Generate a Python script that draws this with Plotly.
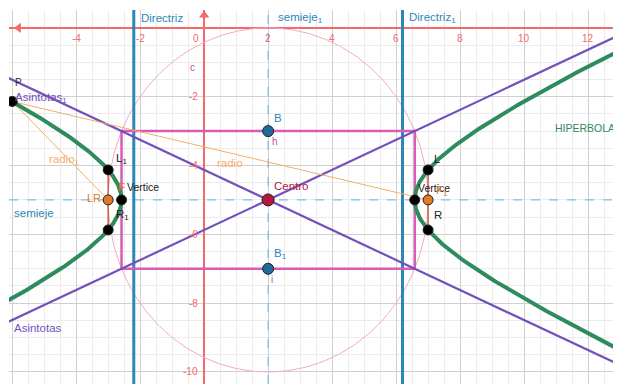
"""
Hipérbola horizontal con sus elementos (vista tipo GeoGebra).
"""

import numpy as np
import plotly.graph_objects as go

# ── Datos ─────────────────────────────────────────────────────────────
CENTER_H, CENTER_K = 2.0, -5.0      # Centro
A_SQ = 21.0                          # a² (semieje real)
B_SEMI = 2.0                         # b  (semieje imaginario)
C_FOCAL = 5.0                        # c  (distancia focal)
P_X = -6.0                           # abscisa del punto P (rama izquierda)

X_TICKS = [-4, -2, 0, 2, 4, 6, 8, 10, 12]
Y_TICKS = [-2, -4, -6, -8, -10]

X_RANGE = [-6.1, 13.03]
Y_RANGE = [-10.35, 0.52]

# ── Colores ───────────────────────────────────────────────────────────
_GREEN   = "#2e8b5e"
_PURPLE  = "#7250bd"
_BLUE    = "#2e86b8"
_DASH    = "#6aaede"
_MAGENTA = "#d65cb4"
_PINK    = "#f3a9c6"
_ORANGE  = "#f6ad6a"
_LR      = "#c8613f"
_FOCUS   = "#e07a24"
_RED     = "#f26a6a"
_FONT    = "Liberation Sans, Arial, sans-serif"

a = np.sqrt(A_SQ)
b = B_SEMI
c = C_FOCAL
h, k = CENTER_H, CENTER_K
d_dir = A_SQ / c
half_lr = b * b / a

fig = go.Figure()


def line(xs, ys, color, width, dash="solid"):
    fig.add_trace(go.Scatter(x=xs, y=ys, mode="lines", hoverinfo="skip",
                             line=dict(color=color, width=width, dash=dash)))


def pts(xs, ys, color, size, border="#222222"):
    fig.add_trace(go.Scatter(x=xs, y=ys, mode="markers", hoverinfo="skip",
                             marker=dict(color=color, size=size,
                                         line=dict(color=border, width=1))))


# circunferencia de radio c
t = np.linspace(0, 2 * np.pi, 400)
line(h + c * np.cos(t), k + c * np.sin(t), _PINK, 1)

# ejes de simetría (punteados)
line([X_RANGE[0], X_RANGE[1]], [k, k], _DASH, 1, "dash")
line([h, h], [Y_RANGE[0], Y_RANGE[1]], _DASH, 1, "dash")

# directrices
line([h - d_dir, h - d_dir], Y_RANGE, _BLUE, 3)
line([h + d_dir, h + d_dir], Y_RANGE, _BLUE, 3)

# rectángulo auxiliar
line([h - a, h + a, h + a, h - a, h - a],
     [k + b, k + b, k - b, k - b, k + b], _MAGENTA, 2.5)

# asíntotas
xa = np.array([X_RANGE[0] - 1, X_RANGE[1] + 1])
line(xa, k + b / a * (xa - h), _PURPLE, 2.2)
line(xa, k - b / a * (xa - h), _PURPLE, 2.2)

# radios focales desde P
p_y = k + b * np.sqrt((P_X - h) ** 2 / A_SQ - 1)
line([P_X, h - c], [p_y, k], _ORANGE, 1)
line([P_X, h + c], [p_y, k], _ORANGE, 1)

# lados rectos
line([h - c, h - c], [k - half_lr, k + half_lr], _LR, 1.5)
line([h + c, h + c], [k - half_lr, k + half_lr], _LR, 1.5)

# hipérbola
s = np.linspace(-2.6, 2.6, 400)
line(h + a * np.cosh(s), k + b * np.sinh(s), _GREEN, 4)
line(h - a * np.cosh(s), k + b * np.sinh(s), _GREEN, 4)

# flechas de los ejes
fig.add_trace(go.Scatter(x=[X_RANGE[0] + 0.3], y=[0], mode="markers", hoverinfo="skip",
                         marker=dict(symbol="triangle-left", color=_RED, size=9)))
fig.add_trace(go.Scatter(x=[0], y=[Y_RANGE[1] - 0.15], mode="markers", hoverinfo="skip",
                         marker=dict(symbol="triangle-up", color=_RED, size=9)))

# puntos
pts([h - c, h + c], [k, k], _FOCUS, 10)
pts([h - a, h + a, h - c, h - c, h + c, h + c, P_X],
    [k, k, k + half_lr, k - half_lr, k + half_lr, k - half_lr, p_y], "#000000", 10)
pts([h, h], [k + b, k - b], "#1f6b99", 11)
pts([h], [k], "#b3173f", 12)

# ── Etiquetas ─────────────────────────────────────────────────────────
ann = []


def label(x, y, text, color, size=11.5, xanchor="left"):
    ann.append(dict(x=x, y=y, text=text, showarrow=False, xanchor=xanchor,
                    yanchor="middle", font=dict(family=_FONT, size=size, color=color)))


for v in X_TICKS:
    label(v - (0.25 if v == 0 else 0), -0.3, str(v), _RED, 10, "center")
for v in Y_TICKS:
    label(-0.12, v, str(v), _RED, 10, "right")

label(-2.05, 0.3, "Directriz", _BLUE)
label(2.25, 0.3, "semieje<sub>1</sub>", _BLUE)
label(6.33, 0.3, "Directriz<sub>1</sub>", _BLUE)
label(-0.5, -1.16, "c", "#c04fa0", 10)
label(-5.98, -1.6, "P", "#333333", 10)
label(-5.98, -2.05, "Asintotas<sub>1</sub>", _PURPLE)
label(2.12, -2.62, "B", _BLUE)
label(2.05, -3.3, "h", "#c04fa0", 10)
label(12.9, -2.9, "HIPERBOLA", _GREEN, 10.5, "right")
label(-4.9, -3.85, "radio<sub>1</sub>", _ORANGE)
label(0.35, -3.92, "radio", _ORANGE)
label(-2.82, -3.82, "L<sub>1</sub>", "#222222")
label(7.12, -3.82, "L", "#222222")
label(-2.75, -4.62, "F", _FOCUS)
label(-2.47, -4.62, "Vertice", "#222222", 10.5)
label(2.12, -4.6, "Centro", "#b3173f")
label(6.62, -4.65, "Vertice", "#222222", 10.5)
label(7.2, -4.75, "F<sub>1</sub>", _FOCUS)
label(-3.15, -4.95, "LR", _FOCUS, 11, "right")
label(-6.0, -5.38, "semieje", _BLUE)
label(-2.82, -5.45, "R<sub>1</sub>", "#222222")
label(7.12, -5.45, "R", "#222222")
label(2.12, -6.57, "B<sub>1</sub>", _BLUE)
label(2.02, -7.3, "i", "#c04fa0", 10)
label(-6.0, -8.72, "Asintotas", _PURPLE)

_AXIS = dict(
    showgrid=True,
    gridcolor="#d0d0d0",
    gridwidth=1,
    dtick=2,
    tick0=0,
    minor=dict(dtick=0.5, showgrid=True, gridcolor="#ececec", gridwidth=1),
    showticklabels=False,
    ticks="",
    showline=False,
    zeroline=True,
    zerolinecolor=_RED,
    zerolinewidth=2,
)

# la página añade 8 px de margen al cuerpo: el lienzo ocupa el resto
fig.update_layout(
    width=613,
    height=376,
    margin=dict(l=1, r=0, t=2, b=0),
    paper_bgcolor="white",
    plot_bgcolor="white",
    showlegend=False,
    xaxis=dict(range=X_RANGE, **_AXIS),
    yaxis=dict(range=Y_RANGE, **_AXIS),
    annotations=ann,
)

fig.write_html("out.html")
